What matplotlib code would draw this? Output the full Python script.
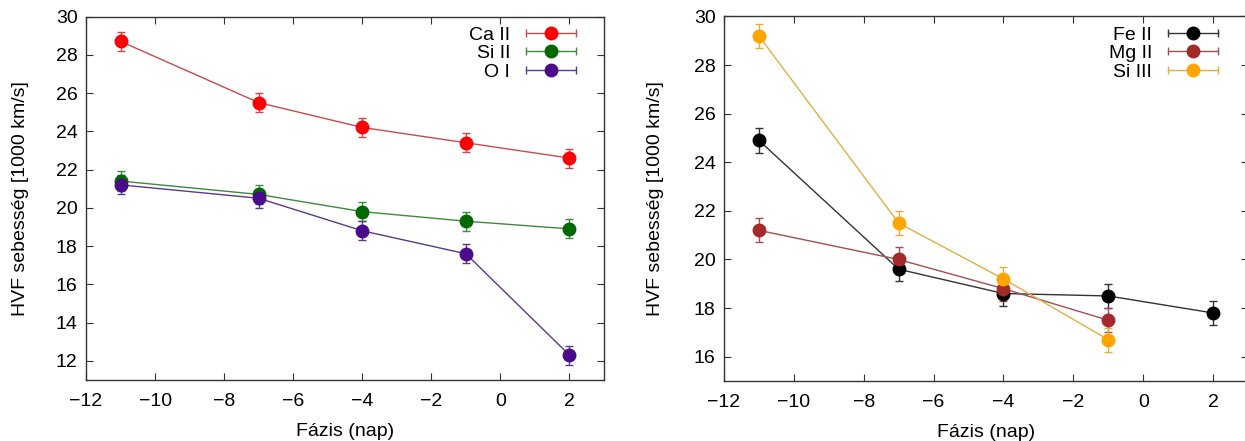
import matplotlib
matplotlib.use("Agg")
import matplotlib.pyplot as plt
from matplotlib.lines import Line2D
from matplotlib.legend_handler import HandlerLine2D, HandlerTuple

plt.rcParams['font.family'] = ['Liberation Sans', 'DejaVu Sans']

# ---- data ----
phase = [-11, -7, -4, -1, 2]
phase_short = [-11, -7, -4, -1]

ca2 = [28.7, 25.5, 24.2, 23.4, 22.6]
si2 = [21.4, 20.7, 19.8, 19.3, 18.9]
o1 = [21.2, 20.5, 18.8, 17.6, 12.3]

fe2 = [24.9, 19.6, 18.6, 18.5, 17.8]
mg2 = [21.2, 20.0, 18.8, 17.5]
si3 = [29.2, 21.5, 19.2, 16.7]

err = 0.5

left_series = [("Ca II", phase, ca2, "#ff0000", "#c84a4a"),
               ("Si II", phase, si2, "#006a00", "#3f8a3f"),
               ("O I", phase, o1, "#4b0a8a", "#5a3a8a")]
right_series = [("Fe II", phase, fe2, "#000000", "#333333"),
                ("Mg II", phase_short, mg2, "#a52a2a", "#a05050"),
                ("Si III", phase_short, si3, "#ffa500", "#e0b040")]

W, H = 1245, 441
fig = plt.figure(figsize=(W / 100, H / 100), dpi=100)

def px_axes(l, r, t, b):
    return fig.add_axes([l / W, 1 - b / H, (r - l) / W, (b - t) / H])

ax1 = px_axes(86, 604, 16.5, 380)
ax2 = px_axes(724, 1248, 16.5, 381)

FS = 14

def draw(ax, series, ylim, yticks, legend_anchor):
    handles = []
    hmap = {}
    for name, x, y, mc, lc in series:
        ax.plot(x, y, '-', color=lc, lw=1.0, zorder=2)
        ax.errorbar(x, y, yerr=[err] * len(y), fmt='none', ecolor=lc,
                    elinewidth=1.0, capsize=3, capthick=1.0, zorder=2)
        ax.plot(x, y, 'o', color=mc, ms=9, mec=mc, zorder=3)
        cap = Line2D([], [], color=lc, lw=1.0, marker='|', ms=6, mew=1.0)
        dot = Line2D([], [], color=mc, lw=0, marker='o', ms=9)
        hmap[cap] = HandlerLine2D(numpoints=2)
        hmap[dot] = HandlerLine2D(numpoints=1)
        handles.append((cap, dot))
    hmap[tuple] = HandlerTuple(ndivide=1, pad=0)
    labels = [s[0] for s in series]
    ax.legend(handles, labels, handler_map=hmap, loc='upper right',
              bbox_to_anchor=legend_anchor, frameon=False, markerfirst=False,
              fontsize=FS, handlelength=3.2, handletextpad=0.5,
              labelspacing=0.05, borderpad=0, borderaxespad=0)
    ax.set_xlim(-12, 3)
    ax.set_ylim(*ylim)
    ax.set_xticks([-12, -10, -8, -6, -4, -2, 0, 2])
    ax.set_xticklabels(["\u221212", "\u221210", "\u22128", "\u22126",
                        "\u22124", "\u22122", "0", "2"])
    ax.set_yticks(yticks)
    ax.tick_params(direction='in', top=True, right=True, length=5,
                   width=0.8, labelsize=FS, color='#333333')
    ax.tick_params(axis='x', pad=9.5)
    ax.tick_params(axis='y', pad=6)
    for sp in ax.spines.values():
        sp.set_linewidth(1.0)
        sp.set_color('#333333')
    ax.set_xlabel("F\u00e1zis (nap)", fontsize=FS, labelpad=9)
    ax.set_ylabel("HVF sebess\u00e9g [1000 km/s]", fontsize=FS)

draw(ax1, left_series, (11, 30), list(range(12, 31, 2)), (0.9575, 0.974))
draw(ax2, right_series, (15, 30), list(range(16, 31, 2)), (0.954, 0.974))
ax1.yaxis.set_label_coords(-0.11, 0.5)
ax2.yaxis.set_label_coords(-0.1145, 0.5)

fig.savefig("out.png", dpi=100)
